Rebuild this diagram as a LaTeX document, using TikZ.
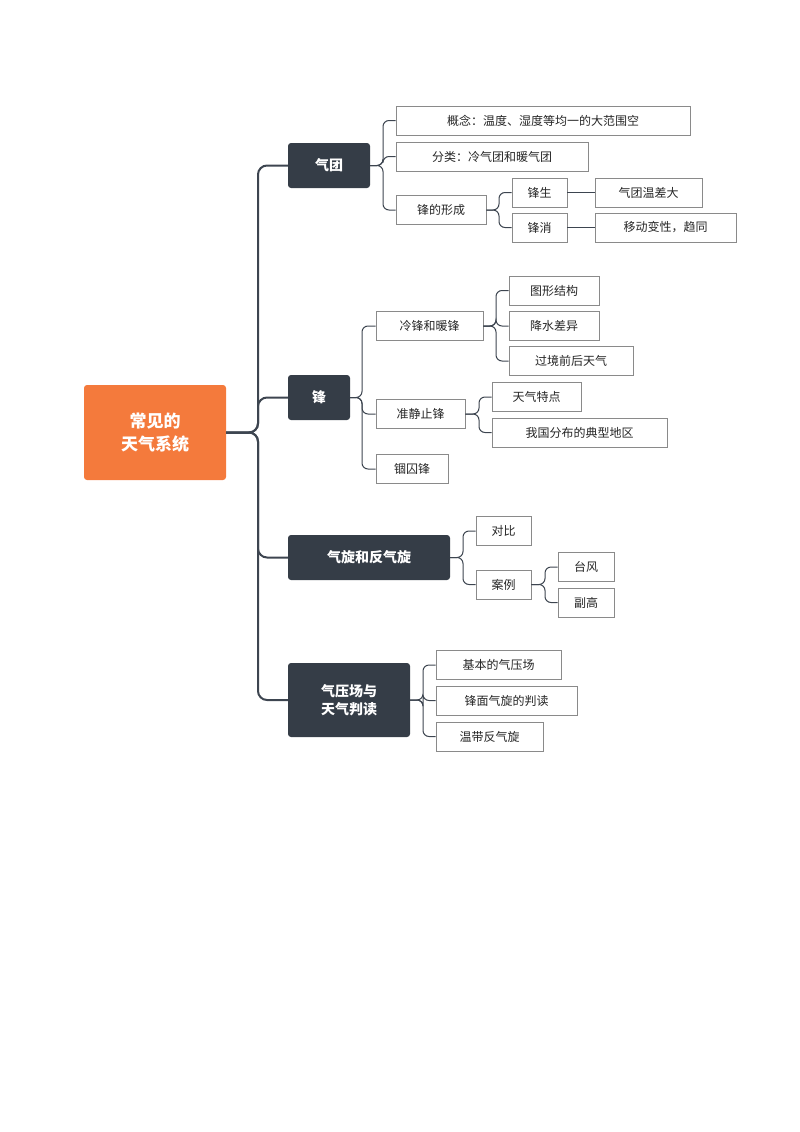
\documentclass[tikz,border=0pt]{standalone}
\usepackage{fontspec}
\setmainfont{Noto Sans CJK SC}
\definecolor{dark}{HTML}{353D47}
\definecolor{org}{HTML}{F47A3C}
\definecolor{bd}{HTML}{8A8A8A}
\definecolor{ln}{HTML}{3D4550}
\begin{document}
\begin{tikzpicture}[x=1pt,y=-1pt,
 leaf/.style={draw=bd,line width=0.9pt,fill=white,font=\fontsize{12}{14}\selectfont,text=black!85,inner sep=0pt,minimum height=29pt},
 main/.style={fill=dark,rounded corners=3pt,text=white,font=\fontsize{14}{18}\selectfont\bfseries,inner sep=0pt,align=center},
 conn/.style={draw=ln,line width=1.3pt,rounded corners=6pt}]
\useasboundingbox (0,0) rectangle (800,1132);
\node[fill=org,rounded corners=3pt,text=white,font=\fontsize{17}{23}\selectfont\bfseries,align=center,minimum width=142pt,minimum height=95pt] (root) at (155,432.5) {常见的\\天气系统};
\node[main,minimum width=82pt,minimum height=45pt] (qt) at (329,165.5) {气团};
\node[main,minimum width=62pt,minimum height=45pt] (f) at (319,397.5) {锋};
\node[main,minimum width=162pt,minimum height=45pt] (qx) at (369,557.5) {气旋和反气旋};
\node[main,minimum width=122pt,minimum height=74pt] (qy) at (349,700) {气压场与\\天气判读};
% 气团 children
\node[leaf,minimum width=294pt] (a1) at (543,120.5) {概念：温度、湿度等均一的大范围空};
\node[leaf,minimum width=192pt] (a2) at (492,156.5) {分类：冷气团和暖气团};
\node[leaf,minimum width=90pt] (a3) at (441,210) {锋的形成};
\node[leaf,minimum width=55pt] (b1) at (539.5,192.5) {锋生};
\node[leaf,minimum width=55pt] (b2) at (539.5,227.5) {锋消};
\node[leaf,minimum width=107pt] (c1) at (648.5,192.5) {气团温差大};
\node[leaf,minimum width=141pt] (c2) at (665.5,227.5) {移动变性，趋同};
% 锋 children
\node[leaf,minimum width=107pt] (d1) at (429.5,326) {冷锋和暖锋};
\node[leaf,minimum width=89pt] (d2) at (420.5,414) {准静止锋};
\node[leaf,minimum width=72pt] (d3) at (412,469) {锢囚锋};
\node[leaf,minimum width=90pt] (e1) at (554,290.5) {图形结构};
\node[leaf,minimum width=90pt] (e2) at (554,326) {降水差异};
\node[leaf,minimum width=124pt] (e3) at (571,361) {过境前后天气};
\node[leaf,minimum width=89pt] (g1) at (536.5,397) {天气特点};
\node[leaf,minimum width=175pt] (g2) at (579.5,432.5) {我国分布的典型地区};
% 气旋 children
\node[leaf,minimum width=55pt] (h1) at (503.5,531) {对比};
\node[leaf,minimum width=55pt] (h2) at (503.5,584.5) {案例};
\node[leaf,minimum width=56pt] (i1) at (586,567) {台风};
\node[leaf,minimum width=56pt] (i2) at (586,602.5) {副高};
% 气压场 children
\node[leaf,minimum width=125pt] (j1) at (498.5,665) {基本的气压场};
\node[leaf,minimum width=141pt] (j2) at (506.5,700.5) {锋面气旋的判读};
\node[leaf,minimum width=107pt] (j3) at (489.5,736.5) {温带反气旋};
% trunk
\coordinate (rt) at (258,432.5);
\foreach \c in {qt,f,qx,qy} \draw[conn,line width=2pt,rounded corners=9pt] (root.east) -- (rt) |- (\c.west);
% branch connectors
\foreach \p/\bx/\cs in {qt/383/{a1,a2,a3}, a3/499/{b1,b2}, f/362/{d1,d2,d3}, d1/496/{e1,e2,e3}, d2/479/{g1,g2}, qx/463/{h1,h2}, h2/545/{i1,i2}, qy/423/{j1,j2,j3}}{
  \path (\p.east) coordinate (pe);
  \coordinate (pb) at (\bx,0);
  \foreach \c in \cs \draw[conn,line width=1pt] (pe) -- (pe -| pb) |- (\c.west);
}
\draw[conn,line width=1pt] (b1) -- (c1);
\draw[conn,line width=1pt] (b2) -- (c2);
\end{tikzpicture}
\end{document}
